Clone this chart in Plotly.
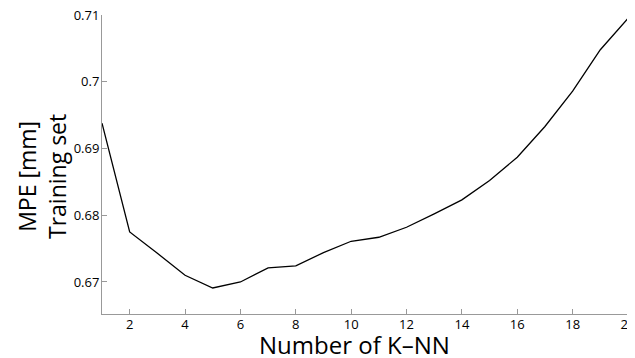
import plotly.graph_objects as go

k_values = list(range(1, 21))
mpe_train = [0.6938, 0.6775, 0.6743, 0.6710, 0.6691, 0.6700, 0.6721, 0.6724, 0.6744, 0.6761,
             0.6767, 0.6782, 0.6802, 0.6823, 0.6852, 0.6887, 0.6933, 0.6986, 0.7048, 0.7095]
x_ticks = [2, 4, 6, 8, 10, 12, 14, 16, 18, 20]
y_ticks = [0.67, 0.68, 0.69, 0.70, 0.71]
y_tick_labels = ["0.67", "0.68", "0.69", "0.7", "0.71"]

FONT = "Open Sans"
OFF = 8  # page body margin offset
W, H = 635 - OFF, 358 - OFF
L, T = 102 - OFF, 15 - OFF
R = W - (628 - OFF)
B = H - (314 - OFF)

fig = go.Figure()
fig.add_trace(go.Scatter(x=k_values, y=mpe_train, mode="lines",
                         line=dict(color="black", width=1.3), showlegend=False,
                         cliponaxis=False))

fig.update_layout(
    width=W, height=H,
    margin=dict(l=L, r=R, t=T, b=B, autoexpand=False),
    paper_bgcolor="white", plot_bgcolor="white",
    font=dict(family=FONT, color="black"),
)
fig.update_xaxes(
    range=[1, 20], tickvals=x_ticks, ticks="inside", ticklen=5, tickcolor="#999999",
    showline=True, linecolor="#999999", linewidth=1, showgrid=False, zeroline=False,
    tickfont=dict(size=13, family=FONT), ticklabelstandoff=-2, automargin=False,
    ticklabeloverflow="allow",
)
fig.update_yaxes(
    range=[0.6652, 0.71001], tickvals=y_ticks, ticktext=y_tick_labels, ticks="inside",
    ticklen=5, tickcolor="#999999",
    showline=True, linecolor="#999999", linewidth=1, showgrid=False, zeroline=False,
    tickfont=dict(size=13, family=FONT), ticklabelstandoff=-1, automargin=False,
    ticklabeloverflow="allow",
)

plot_w = W - L - R
plot_h = H - T - B
def px_x(sx):
    return (sx - OFF - L) / plot_w
def px_y(sy):
    return (H - B - (sy - OFF)) / plot_h

fig.add_annotation(
    text="MPE [mm]<br>Training set", textangle=-90, showarrow=False,
    xref="paper", yref="paper", x=px_x(42), y=px_y(177),
    xanchor="center", yanchor="middle",
    font=dict(size=23, family=FONT, color="black"),
)
fig.add_annotation(
    text="Number of K\u2013NN", showarrow=False,
    xref="paper", yref="paper", x=px_x(354), y=px_y(344),
    xanchor="center", yanchor="middle",
    font=dict(size=24, family=FONT, color="black"),
)

fig.write_html("out.html")
